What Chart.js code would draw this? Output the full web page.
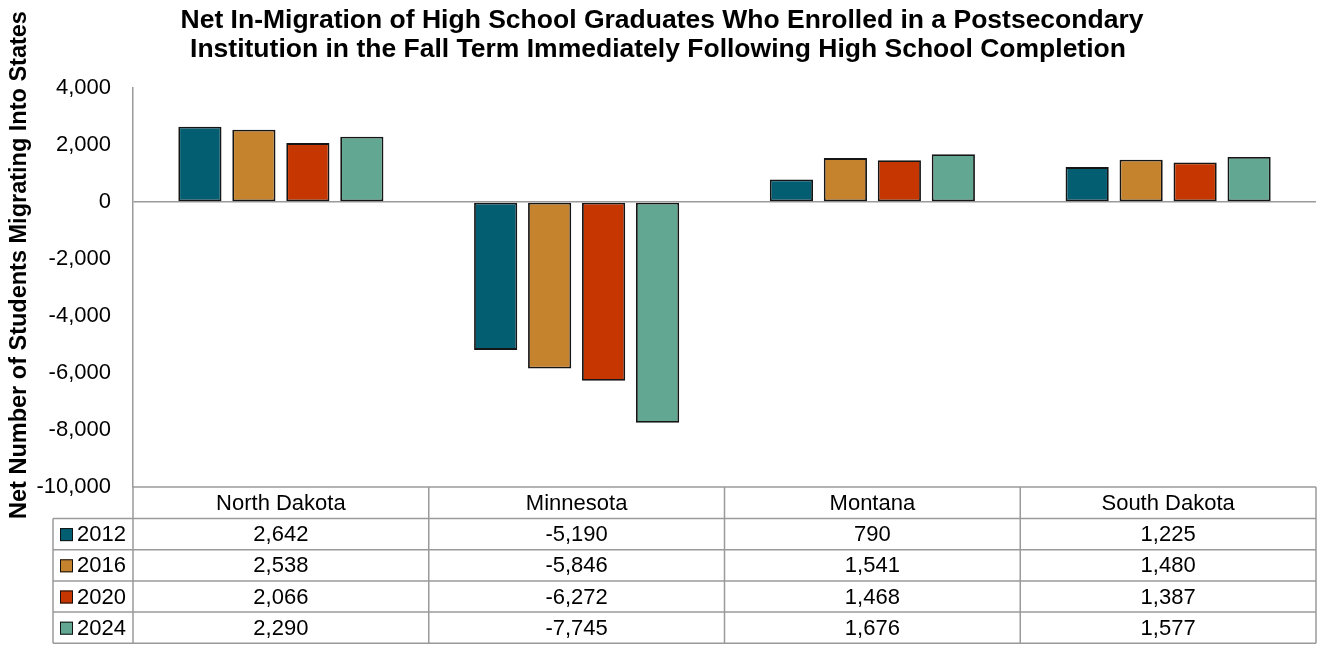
<!DOCTYPE html>
<html>
<head>
<meta charset="utf-8">
<script src="https://cdn.jsdelivr.net/npm/chart.js@4.4.1/dist/chart.umd.min.js"></script>
<style>
    html, body { margin: 0; padding: 0; background: #fff; }
    canvas { display: block; }
</style>
</head>
<body>
<canvas id="grafico" width="1320" height="648"></canvas>
<script>
const estados = ['North Dakota', 'Minnesota', 'Montana', 'South Dakota'];
const anos = ['2012', '2016', '2020', '2024'];
const valores2012 = [2642, -5190, 790, 1225];
const valores2016 = [2538, -5846, 1541, 1480];
const valores2020 = [2066, -6272, 1468, 1387];
const valores2024 = [2290, -7745, 1676, 1577];
const cores = ['#045E72', '#C5832E', '#C63600', '#61A792'];
const titulo = [
    'Net In-Migration of High School Graduates Who Enrolled in a Postsecondary',
    'Institution in the Fall Term Immediately Following High School Completion'
];
const tituloEixoY = 'Net Number of Students Migrating Into States';

const series = [valores2012, valores2016, valores2020, valores2024];
const fonte = '"Liberation Sans", Arial, sans-serif';
const cinza = '#9a9a9a';

function formatar(v) {
    return v.toLocaleString('en-US');
}

// desenha titulo, titulo do eixo e a tabela de dados
const tabelaPlugin = {
    id: 'tabela',
    afterDraw(chart) {
        const ctx = chart.ctx;
        const area = chart.chartArea;
        const x = chart.scales.x;
        const larguraCat = (area.right - area.left) / estados.length;
        const topo = area.bottom;
        const alturaCab = 31.5;
        const alturaLinha = 31.2;
        const esquerdaLegenda = 53;
        const fundo = topo + alturaCab + alturaLinha * anos.length;

        ctx.save();

        // titulo
        ctx.fillStyle = '#000';
        ctx.font = 'bold 26.5px ' + fonte;
        ctx.textAlign = 'center';
        ctx.textBaseline = 'alphabetic';
        ctx.fillText(titulo[0], 662, 28);
        ctx.fillText(titulo[1], 658, 57);

        // titulo do eixo y
        ctx.save();
        ctx.translate(26, 265);
        ctx.rotate(-Math.PI / 2);
        ctx.font = 'bold 23.5px ' + fonte;
        ctx.fillText(tituloEixoY, 0, 0);
        ctx.restore();

        // linhas da tabela
        ctx.strokeStyle = cinza;
        ctx.lineWidth = 1.5;
        ctx.beginPath();
        ctx.moveTo(area.left, topo);
        ctx.lineTo(area.right, topo);
        for (let i = 0; i <= anos.length; i++) {
            const yy = topo + alturaCab + alturaLinha * i;
            ctx.moveTo(esquerdaLegenda, yy);
            ctx.lineTo(area.right, yy);
        }
        for (let i = 0; i <= estados.length; i++) {
            const xx = area.left + larguraCat * i;
            ctx.moveTo(xx, topo);
            ctx.lineTo(xx, fundo);
        }
        ctx.moveTo(esquerdaLegenda, topo + alturaCab);
        ctx.lineTo(esquerdaLegenda, fundo);
        ctx.stroke();

        // textos
        ctx.fillStyle = '#000';
        ctx.font = '22px ' + fonte;
        ctx.textBaseline = 'middle';
        ctx.textAlign = 'center';
        estados.forEach((nome, i) => {
            ctx.fillText(nome, x.getPixelForValue(i), topo + alturaCab / 2 + 1);
        });
        anos.forEach((ano, j) => {
            const yy = topo + alturaCab + alturaLinha * j + alturaLinha / 2 + 1;
            ctx.textAlign = 'center';
            series[j].forEach((v, i) => {
                ctx.fillText(formatar(v), x.getPixelForValue(i), yy);
            });
            // legenda
            ctx.fillStyle = cores[j];
            ctx.fillRect(60, yy - 7, 13, 13);
            ctx.strokeStyle = '#111';
            ctx.lineWidth = 1;
            ctx.strokeRect(60.5, yy - 6.5, 12, 12);
            ctx.fillStyle = '#000';
            ctx.textAlign = 'left';
            ctx.fillText(ano, 77, yy);
        });

        ctx.restore();
    }
};

const canva = document.getElementById('grafico').getContext('2d');
const grafico = new Chart(canva, {
    type: 'bar',
    data: {
        labels: estados,
        datasets: anos.map((ano, j) => ({
            label: ano,
            data: series[j],
            backgroundColor: cores[j],
            borderColor: '#151515',
            borderWidth: 1.8,
            borderSkipped: false,
            categoryPercentage: 0.73,
            barPercentage: 0.8
        }))
    },
    options: {
        responsive: false,
        devicePixelRatio: 1,
        animation: false,
        layout: {
            padding: { left: 0, top: 88, right: 4, bottom: 161 }
        },
        plugins: {
            legend: { display: false },
            tooltip: { enabled: false },
            title: { display: false }
        },
        scales: {
            x: {
                display: false
            },
            y: {
                min: -10000,
                max: 4000,
                afterFit(scale) {
                    scale.width = 133;
                },
                ticks: {
                    stepSize: 2000,
                    padding: 22,
                    color: '#000',
                    font: { family: fonte, size: 22 },
                    callback: (v) => formatar(v)
                },
                grid: {
                    drawTicks: false,
                    lineWidth: 1.5,
                    color: (c) => (c.tick && c.tick.value === 0 ? cinza : 'rgba(0,0,0,0)')
                },
                border: {
                    color: cinza,
                    width: 1.5
                }
            }
        }
    },
    plugins: [tabelaPlugin]
});
</script>
</body>
</html>
